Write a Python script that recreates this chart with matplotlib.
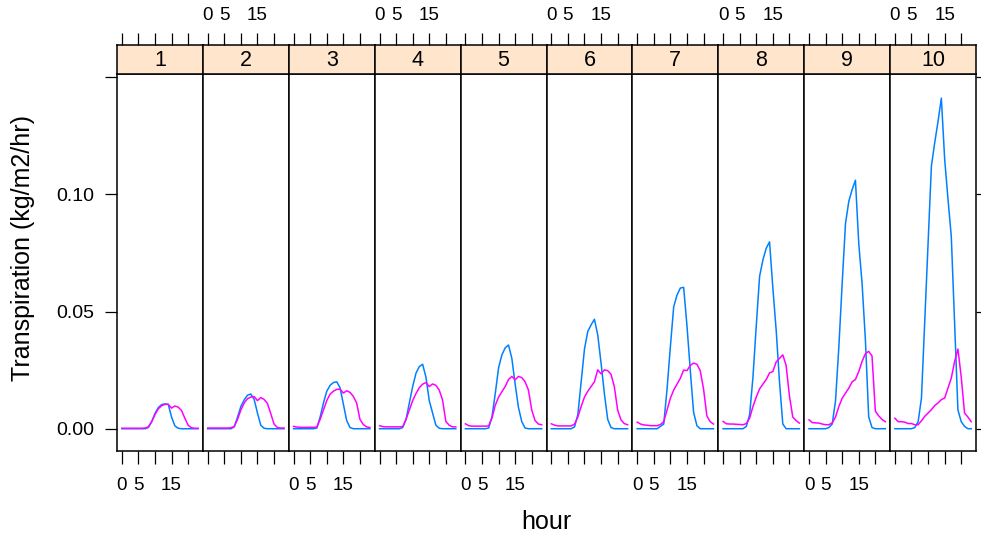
import matplotlib
matplotlib.use("Agg")
import matplotlib.pyplot as plt

# ------------------------------
# DONNÉES
# ------------------------------
hours = list(range(24))
panel_labels = ['1', '2', '3', '4', '5', '6', '7', '8', '9', '10']

# courbe bleue, un jeu de 24 valeurs horaires par panneau
blue_series = [
    [0, 0, 0, 0, 0, 0, 0, 0, 0.0005, 0.003, 0.0065, 0.009, 0.0103, 0.0106, 0.0104, 0.005, 0.0012, 0.0002, 0, 0, 0, 0, 0, 0],
    [0, 0, 0, 0, 0, 0, 0, 0, 0.0008, 0.005, 0.0095, 0.0123, 0.0143, 0.0148, 0.0125, 0.0067, 0.0015, 0.0002, 0, 0, 0, 0, 0, 0],
    [0, 0, 0, 0, 0, 0, 0, 0.0003, 0.005, 0.011, 0.016, 0.0185, 0.0197, 0.020, 0.0175, 0.0105, 0.0035, 0.0005, 0, 0, 0, 0, 0, 0],
    [0, 0, 0, 0, 0, 0, 0, 0.0005, 0.004, 0.011, 0.018, 0.0237, 0.0265, 0.0275, 0.022, 0.012, 0.0067, 0.0015, 0.0002, 0, 0, 0, 0, 0],
    [0, 0, 0, 0, 0, 0, 0, 0.0003, 0.005, 0.015, 0.026, 0.0315, 0.0345, 0.0357, 0.030, 0.019, 0.009, 0.003, 0.0003, 0, 0, 0, 0, 0],
    [0, 0, 0, 0, 0, 0, 0, 0.0008, 0.006, 0.020, 0.034, 0.0415, 0.0443, 0.0467, 0.040, 0.028, 0.015, 0.004, 0.0005, 0, 0, 0, 0, 0],
    [0, 0, 0, 0, 0, 0, 0, 0.001, 0.002, 0.017, 0.035, 0.052, 0.057, 0.060, 0.0603, 0.044, 0.025, 0.007, 0.0013, 0, 0, 0, 0, 0],
    [0, 0, 0, 0, 0, 0, 0, 0.001, 0.006, 0.022, 0.044, 0.065, 0.072, 0.077, 0.0797, 0.060, 0.042, 0.020, 0.002, 0, 0, 0, 0, 0],
    [0, 0, 0, 0, 0, 0, 0.0005, 0.002, 0.012, 0.035, 0.062, 0.0875, 0.097, 0.102, 0.106, 0.079, 0.062, 0.038, 0.005, 0.0005, 0, 0, 0, 0],
    [0, 0, 0, 0, 0, 0, 0.0005, 0.003, 0.013, 0.046, 0.079, 0.112, 0.122, 0.131, 0.141, 0.115, 0.098, 0.082, 0.045, 0.008, 0.003, 0.001, 0, 0],
]

# courbe magenta
pink_series = [
    [0.0002, 0.0002, 0.0002, 0.0002, 0.0002, 0.0002, 0.0002, 0.0003, 0.0008, 0.003, 0.006, 0.0085, 0.0098, 0.0104, 0.0104, 0.0088, 0.0097, 0.0092, 0.0078, 0.0045, 0.0015, 0.0004, 0.0002, 0.0002],
    [0.0003, 0.0003, 0.0003, 0.0003, 0.0003, 0.0003, 0.0003, 0.0004, 0.001, 0.004, 0.008, 0.011, 0.0128, 0.0135, 0.0137, 0.012, 0.0133, 0.0125, 0.0108, 0.0065, 0.002, 0.0005, 0.0003, 0.0003],
    [0.001, 0.0007, 0.0006, 0.0006, 0.0006, 0.0006, 0.0006, 0.0007, 0.004, 0.008, 0.012, 0.0148, 0.016, 0.0168, 0.0169, 0.0152, 0.0162, 0.0155, 0.0138, 0.011, 0.004, 0.0018, 0.0008, 0.0005],
    [0.0013, 0.0009, 0.0008, 0.0008, 0.0008, 0.0008, 0.0008, 0.0009, 0.004, 0.008, 0.012, 0.015, 0.0175, 0.019, 0.0197, 0.018, 0.0191, 0.0185, 0.0165, 0.0123, 0.0031, 0.0015, 0.0008, 0.0008],
    [0.0021, 0.0013, 0.0011, 0.0011, 0.0011, 0.0011, 0.0011, 0.0012, 0.0045, 0.010, 0.0135, 0.0158, 0.018, 0.021, 0.0223, 0.0209, 0.0223, 0.0218, 0.020, 0.0165, 0.008, 0.0035, 0.002, 0.0017],
    [0.0021, 0.0015, 0.0012, 0.0012, 0.0012, 0.0012, 0.0012, 0.002, 0.005, 0.0095, 0.0135, 0.016, 0.018, 0.020, 0.0251, 0.0234, 0.0251, 0.0248, 0.0232, 0.018, 0.008, 0.0038, 0.0022, 0.0017],
    [0.0028, 0.002, 0.0016, 0.0015, 0.0013, 0.0013, 0.0013, 0.0018, 0.003, 0.008, 0.013, 0.0165, 0.019, 0.0215, 0.025, 0.0248, 0.027, 0.028, 0.0275, 0.0248, 0.017, 0.0055, 0.003, 0.002],
    [0.0031, 0.0021, 0.002, 0.002, 0.0019, 0.0018, 0.0017, 0.0022, 0.0045, 0.0095, 0.0135, 0.017, 0.019, 0.021, 0.0238, 0.0244, 0.0285, 0.030, 0.0315, 0.027, 0.014, 0.005, 0.0035, 0.0024],
    [0.0038, 0.0026, 0.0025, 0.0024, 0.002, 0.0017, 0.0017, 0.0025, 0.005, 0.0095, 0.013, 0.0152, 0.0173, 0.020, 0.021, 0.0244, 0.0287, 0.032, 0.033, 0.031, 0.0075, 0.0055, 0.004, 0.003],
    [0.0045, 0.003, 0.003, 0.0028, 0.0022, 0.0022, 0.0017, 0.0017, 0.0034, 0.0053, 0.0067, 0.0081, 0.0099, 0.011, 0.0124, 0.0131, 0.0173, 0.0216, 0.0287, 0.034, 0.022, 0.0067, 0.005, 0.003],
]

x_ticks = [0, 5, 10, 15, 20]
x_tick_labels = ['0', '5', '', '15', '']
y_ticks = [0.00, 0.05, 0.10, 0.15]
y_tick_labels = ['0.00', '0.05', '0.10', '']

# ------------------------------
# MISE EN PAGE (pixels)
# ------------------------------
W, H = 981, 541
left, right = 117, 976
strip_top, panel_top, panel_bottom = 45, 74, 451
pw = (right - left) / len(panel_labels)

BLUE = '#0080ff'
PINK = '#ff00ff'
STRIP = '#ffe5cc'

plt.rcParams['font.family'] = ['Liberation Sans', 'DejaVu Sans']

fig = plt.figure(figsize=(W / 100, H / 100), dpi=100)

xlim = (-1.45, 24.45)
ylim = (-0.0095, 0.1513)
tick_len = 9
tick_fs = 13.5

for i, lab in enumerate(panel_labels):
    x0 = left + i * pw
    ax = fig.add_axes([x0 / W, 1 - panel_bottom / H, pw / W, (panel_bottom - panel_top) / H])
    ax.plot(hours, blue_series[i], color=BLUE, lw=1.1)
    ax.plot(hours, pink_series[i], color=PINK, lw=1.1)
    ax.set_xlim(*xlim)
    ax.set_ylim(*ylim)
    for s in ax.spines.values():
        s.set_linewidth(1.1)

    # axe x du bas : étiquettes sur les panneaux impairs
    ax.set_xticks(x_ticks)
    if i % 2 == 0:
        ax.set_xticklabels(x_tick_labels)
    else:
        ax.set_xticklabels([])
    ax.tick_params(axis='x', direction='out', length=tick_len, width=0.9,
                   labelsize=tick_fs, pad=9.5)

    # axe y : gauche sur le premier, droite sans texte sur le dernier
    ax.set_yticks(y_ticks)
    if i == 0:
        ax.set_yticklabels(y_tick_labels)
        ax.tick_params(axis='y', direction='out', length=tick_len, width=0.9,
                       labelsize=14, pad=7.5)
    elif i == len(panel_labels) - 1:
        ax.yaxis.tick_right()
        ax.set_yticklabels([])
        ax.tick_params(axis='y', direction='out', length=tick_len, width=0.9)
    else:
        ax.tick_params(axis='y', left=False, labelleft=False)

    # bandeau du panneau
    st = fig.add_axes([x0 / W, 1 - panel_top / H, pw / W, (panel_top - strip_top) / H])
    st.set_facecolor(STRIP)
    st.set_xlim(*xlim)
    st.set_ylim(0, 1)
    st.set_yticks([])
    st.xaxis.tick_top()
    st.set_xticks(x_ticks)
    if i % 2 == 1:
        st.set_xticklabels(x_tick_labels)
    else:
        st.set_xticklabels([])
    st.tick_params(axis='x', direction='out', length=tick_len, width=0.9,
                   labelsize=tick_fs, pad=6)
    for s in st.spines.values():
        s.set_linewidth(1.1)
    st.text(0.5, 0.45, lab, transform=st.transAxes, ha='center', va='center',
            fontsize=15.5)

fig.text(546 / W, 1 - 522 / H, 'hour', ha='center', va='center', fontsize=18)
fig.text(23 / W, 1 - 248 / H, 'Transpiration (kg/m2/hr)', ha='center', va='center',
         rotation=90, fontsize=18)

fig.savefig('out.png', dpi=100)
